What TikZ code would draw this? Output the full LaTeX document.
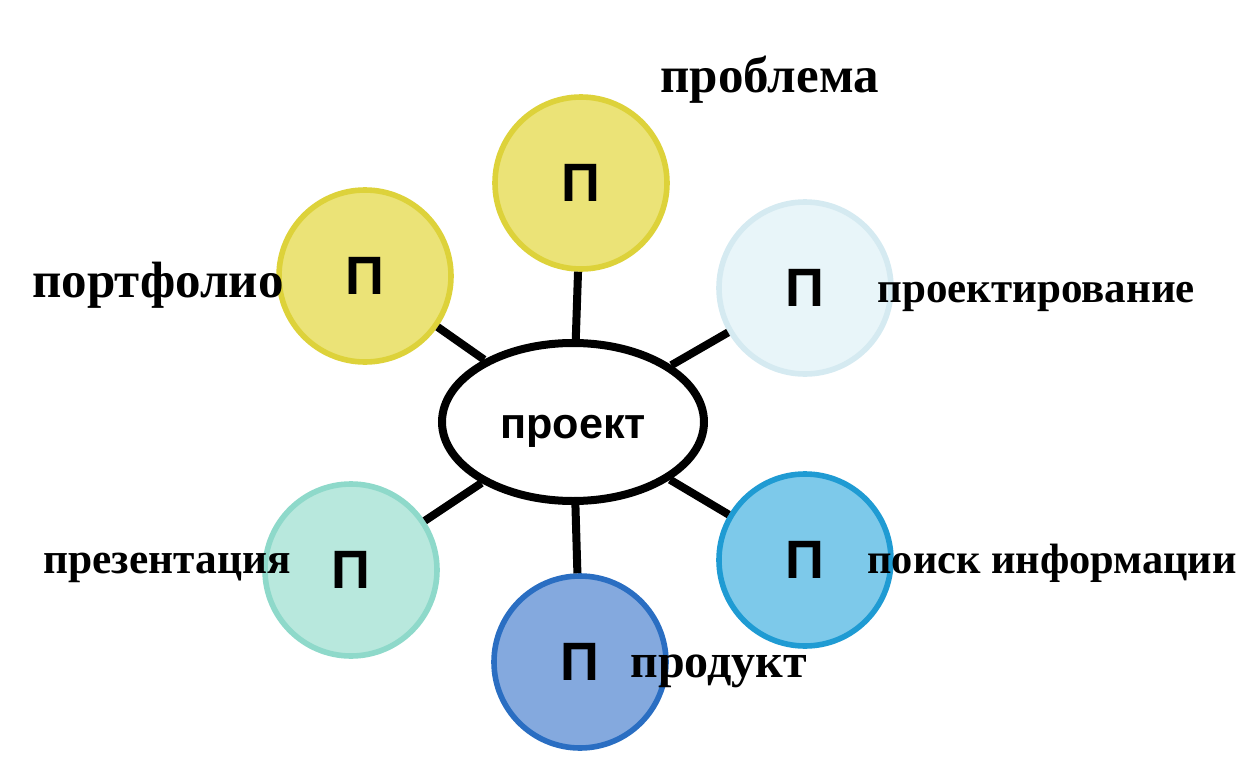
\documentclass[tikz,border=0pt]{standalone}
\usepackage{fontspec}
\setmainfont{Liberation Serif}
\setsansfont{Liberation Sans}
\usetikzlibrary{shapes.geometric, positioning}

\definecolor{yfill}{HTML}{EBE377}
\definecolor{yline}{HTML}{DDD23A}
\definecolor{pbfill}{HTML}{E8F5F9}
\definecolor{pbline}{HTML}{D5EAF1}
\definecolor{mfill}{HTML}{B8E8DD}
\definecolor{mline}{HTML}{8ED9CA}
\definecolor{dbfill}{HTML}{84A9DE}
\definecolor{dbline}{HTML}{2A6EC2}
\definecolor{sbfill}{HTML}{7DC9EA}
\definecolor{sbline}{HTML}{1F9BD3}

\begin{document}
\begin{tikzpicture}[
    x=0.5pt, y=-0.5pt,
    petal/.style={circle, draw, line width=2.8pt, minimum size=86pt, inner sep=0pt, font=\sffamily\bfseries\fontsize{27}{27}\selectfont},
    hub/.style={ellipse, draw, line width=4pt, fill=white, minimum width=131pt, minimum height=79pt, inner sep=0pt, text height=16pt, text depth=0pt, font=\sffamily\bfseries\fontsize{21.6}{22}\selectfont},
    caption/.style={anchor=base west, inner sep=0pt, font=\rmfamily\bfseries},
    spoke/.style={line width=4pt, black}
]
    \useasboundingbox (0,0) rectangle (1244,760);

    \node[hub] (proekt) at (573,422) {проект};

    \node[petal, fill=yfill, draw=yline] (problema) at (581,183) {П};
    \node[petal, fill=yfill, draw=yline] (portfolio) at (365,276) {П};
    \node[petal, fill=pbfill, draw=pbline] (proekt-ie) at (805,288) {П};
    \node[petal, fill=mfill, draw=mline] (prezent) at (351,570) {П};
    \node[petal, fill=dbfill, draw=dbline] (produkt) at (580,662) {П};
    \node[petal, fill=sbfill, draw=sbline] (poisk) at (805,560) {П};

    \foreach \p in {problema, portfolio, proekt-ie, prezent, produkt, poisk}
        \draw[spoke] (proekt) -- (\p);

    % labels next to the circles
    \node[caption, font=\rmfamily\bfseries\fontsize{25.5}{26}\selectfont] (l-problema) at (660,92) {проблема};
    \node[caption, font=\rmfamily\bfseries\fontsize{25.5}{26}\selectfont] (l-portfolio) at (32,297) {портфолио};
    \node[caption, font=\rmfamily\bfseries\fontsize{21.5}{22}\selectfont] (l-proekt-ie) at (877,302) {проектирование};
    \node[caption, font=\rmfamily\bfseries\fontsize{21.7}{22}\selectfont] (l-prezent) at (43,573) {презентация};
    \node[caption, font=\rmfamily\bfseries\fontsize{21.2}{22}\selectfont] (l-poisk) at (867,573) {поиск информации};
    \node[caption, font=\rmfamily\bfseries\fontsize{24}{24}\selectfont] (l-produkt) at (630,677) {продукт};
\end{tikzpicture}
\end{document}
